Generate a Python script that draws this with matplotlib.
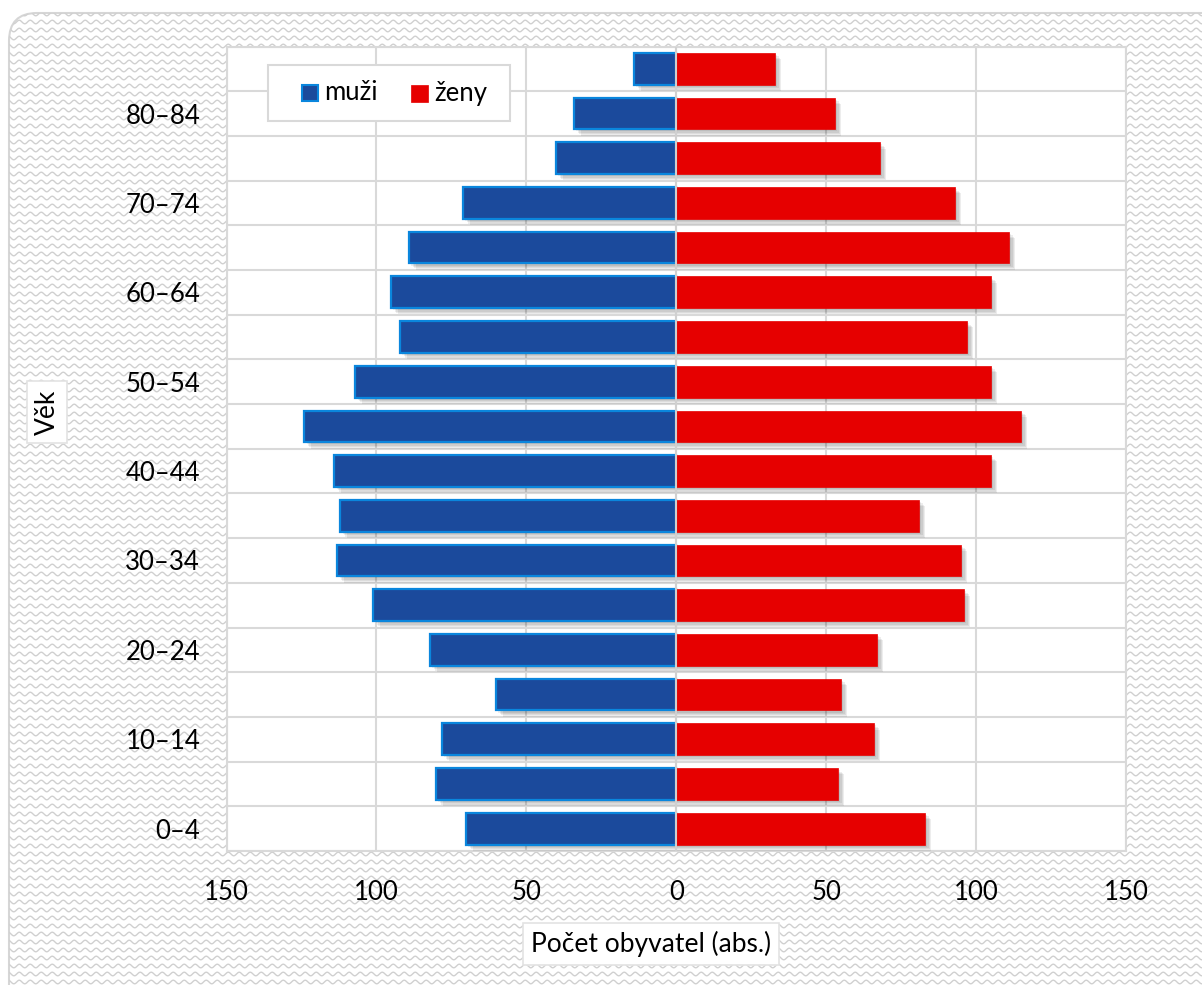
import numpy as np
import matplotlib
matplotlib.use("Agg")
import matplotlib.pyplot as plt
from matplotlib import patheffects as pe
from matplotlib.patches import FancyBboxPatch, Rectangle
from matplotlib.ticker import FuncFormatter

plt.rcParams['font.family'] = ['Lato', 'DejaVu Sans']

age_groups = ["0–4", "5–9", "10–14", "15–19", "20–24", "25–29", "30–34", "35–39",
              "40–44", "45–49", "50–54", "55–59", "60–64", "65–69", "70–74", "75–79",
              "80–84", "85+"]
muzi = [70, 80, 78, 60, 82, 101, 113, 112, 114, 124, 107, 92, 95, 89, 71, 40, 34, 14]
zeny = [83, 54, 66, 55, 67, 96, 95, 81, 105, 115, 105, 97, 105, 111, 93, 68, 53, 33]
x_ticks = [-150, -100, -50, 0, 50, 100, 150]
series_names = ["muži", "ženy"]

BLUE, BLUE_EDGE, RED = "#1B4A9C", "#0A86DD", "#E60000"

W, H = 1202, 985
fig = plt.figure(figsize=(W / 100, H / 100), dpi=100)
fig.patch.set_facecolor("white")

# background with wavy pattern inside rounded frame
bg = fig.add_axes([0, 0, 1, 1])
bg.set_xlim(0, W)
bg.set_ylim(H, 0)
bg.axis("off")
frame = FancyBboxPatch((9, 13), W + 40, H + 40, boxstyle="round,pad=0,rounding_size=28",
                       facecolor="white", edgecolor="#D6D6D6", linewidth=1.5, zorder=1)
bg.add_patch(frame)
xs = np.linspace(0, W, 1400)
for y0 in np.arange(14, H + 10, 8.0):
    ln, = bg.plot(xs, y0 + 1.8 * np.sin(2 * np.pi * xs / 11.0), color="#D0D0D0", lw=1.0, zorder=2)
    ln.set_clip_path(frame)

# main axes
left, right, top, bottom = 226.5, 1126, 46.5, 851
ax = fig.add_axes([left / W, 1 - bottom / H, (right - left) / W, (bottom - top) / H])
ax.set_facecolor("white")
ax.set_zorder(3)

y = np.arange(len(age_groups))
shadow = [pe.SimplePatchShadow(offset=(d, -d), shadow_rgbFace="black", alpha=0.07) for d in (1.5, 2.5, 3.5, 4.5)] + [pe.Normal()]

bm = ax.barh(y, -np.array(muzi), height=0.71, color=BLUE, edgecolor=BLUE_EDGE, linewidth=1.6, zorder=3)
bz = ax.barh(y, np.array(zeny), height=0.71, color=RED, edgecolor=RED, linewidth=0.5, zorder=3)
for b in list(bm) + list(bz):
    b.set_path_effects(shadow)

ax.set_xlim(-150, 150)
ax.set_ylim(-0.5, len(age_groups) - 0.5)
ax.set_xticks(x_ticks)
ax.xaxis.set_major_formatter(FuncFormatter(lambda v, p: f"{abs(int(v))}"))
ax.set_yticks(y[::2])
ax.set_yticklabels(age_groups[::2])
ax.tick_params(axis="both", length=0, labelsize=18.5, colors="black")
ax.tick_params(axis="x", pad=21)
ax.tick_params(axis="y", pad=19)

# gridlines
for xv in x_ticks:
    ax.axvline(xv, color="#D9D9D9", lw=1.5, zorder=1)
for yb in np.arange(-0.5, len(age_groups), 1.0):
    ax.axhline(yb, color="#D9D9D9", lw=1.5, zorder=1)
ax.axvline(0, color="#D0D0D0", lw=1.5, zorder=6)
for s in ax.spines.values():
    s.set_color("#D9D9D9")
    s.set_linewidth(1.5)

# legend (drawn manually in figure pixel coordinates)
lg = fig.add_axes([0, 0, 1, 1])
lg.set_xlim(0, W)
lg.set_ylim(H, 0)
lg.axis("off")
lg.set_zorder(10)
lg.add_patch(Rectangle((268, 64.5), 242, 56, facecolor="white", edgecolor="#D9D9D9", linewidth=1.5))
lg.add_patch(Rectangle((301.5, 84.5), 16.5, 16.5, facecolor=BLUE, edgecolor=BLUE_EDGE, linewidth=1.5))
lg.add_patch(Rectangle((411, 84.5), 17, 17, facecolor=RED, edgecolor=RED, linewidth=0.5))
lg.text(324, 93, series_names[0], ha="left", va="center", fontsize=18.5)
lg.text(434, 93, series_names[1], ha="left", va="center", fontsize=18.5)

# axis titles
bbox_style = dict(boxstyle="square,pad=0.3", facecolor="white", edgecolor="#E3E3E3", linewidth=1.2)
fig.text(47 / W, 1 - 412 / H, "Věk", rotation=90, ha="center", va="center", fontsize=19, bbox=bbox_style)
fig.text(651 / W, 1 - 944 / H, "Počet obyvatel (abs.)", ha="center", va="center", fontsize=19, bbox=bbox_style)

fig.savefig("out.png", dpi=100, facecolor="white")
